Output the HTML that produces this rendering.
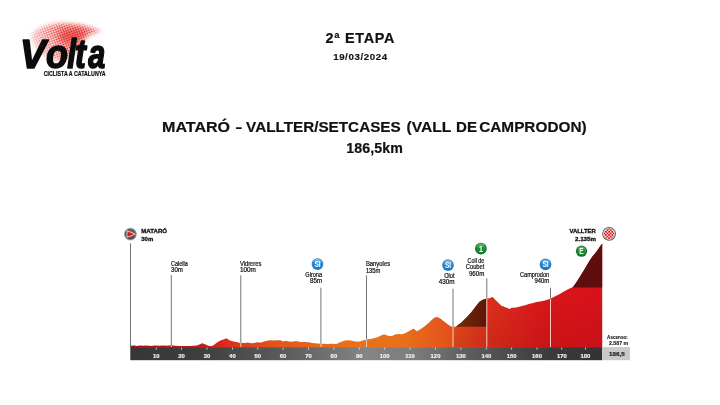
<!DOCTYPE html>
<html lang="ca"><head><meta charset="utf-8"><title>2ª Etapa - Volta Ciclista a Catalunya</title>
<style>
html,body{margin:0;padding:0;background:#fff;}
body{width:720px;height:405px;overflow:hidden;font-family:"Liberation Sans",sans-serif;}
svg{display:block}
svg text{font-family:"Liberation Sans",sans-serif;}
.tk{font-size:5.9px;font-weight:bold;fill:#f4f4f4;stroke:#f4f4f4;stroke-width:0.15px;text-anchor:middle}
.lb{font-size:6.3px;fill:#111;stroke:#111;stroke-width:0.2px}
.lbb{font-size:6.2px;font-weight:bold;fill:#111;stroke:#111;stroke-width:0.32px}
.ln{stroke:#747474;stroke-width:1}
.lw{stroke:#f7cdb9;stroke-width:1}
</style></head><body>
<svg width="720" height="405" viewBox="0 0 720 405">
<defs>
<linearGradient id="gprof" gradientUnits="userSpaceOnUse" x1="130" y1="0" x2="602" y2="0">
<stop offset="0" stop-color="#a31117"/>
<stop offset="0.12" stop-color="#b9151a"/>
<stop offset="0.17" stop-color="#cf1d1b"/>
<stop offset="0.2" stop-color="#de2a1a"/>
<stop offset="0.3" stop-color="#e4521b"/>
<stop offset="0.45" stop-color="#e8701a"/>
<stop offset="0.58" stop-color="#e8701a"/>
<stop offset="0.68" stop-color="#e3501c"/>
<stop offset="0.76" stop-color="#dd2f1d"/>
<stop offset="0.88" stop-color="#d8161b"/>
<stop offset="1" stop-color="#d6121a"/>
</linearGradient>
<linearGradient id="gbar" gradientUnits="userSpaceOnUse" x1="130" y1="0" x2="602" y2="0">
<stop offset="0" stop-color="#363636"/>
<stop offset="0.15" stop-color="#3e3e3e"/>
<stop offset="0.35" stop-color="#606060"/>
<stop offset="0.5" stop-color="#858585"/>
<stop offset="0.6" stop-color="#7c7c7c"/>
<stop offset="0.75" stop-color="#555"/>
<stop offset="0.9" stop-color="#3a3a3a"/>
<stop offset="1" stop-color="#333"/>
</linearGradient>
<linearGradient id="gshade" gradientUnits="userSpaceOnUse" x1="0" y1="296" x2="0" y2="347"><stop offset="0" stop-color="#7a0a00" stop-opacity="0"/><stop offset="1" stop-color="#7a0a00" stop-opacity="0.16"/></linearGradient>
<linearGradient id="gc1" gradientUnits="userSpaceOnUse" x1="456" y1="0" x2="487" y2="0"><stop offset="0" stop-color="#712d07"/><stop offset="1" stop-color="#5c1607"/></linearGradient>
<linearGradient id="gblue" x1="0" y1="0" x2="0" y2="1"><stop offset="0" stop-color="#84c9f2"/><stop offset="0.38" stop-color="#2b8bd3"/><stop offset="1" stop-color="#1a72ba"/></linearGradient>
<linearGradient id="ggreen" x1="0" y1="0" x2="0" y2="1"><stop offset="0" stop-color="#6cc06a"/><stop offset="0.4" stop-color="#1f9038"/><stop offset="1" stop-color="#0f7d2d"/></linearGradient>
<radialGradient id="ggrey" cx="0.5" cy="0.4" r="0.6"><stop offset="0" stop-color="#7a7a7a"/><stop offset="1" stop-color="#444"/></radialGradient>
<pattern id="chk" width="3.2" height="3.2" patternUnits="userSpaceOnUse" x="0.3" y="0.6"><rect width="3.2" height="3.2" fill="#fbd5d2"/><rect width="1.6" height="1.6" fill="#df1219"/><rect x="1.6" y="1.6" width="1.6" height="1.6" fill="#df1219"/></pattern>
<pattern id="dots" width="2.4" height="2.4" patternUnits="userSpaceOnUse" patternTransform="rotate(-20)"><circle cx="1.2" cy="1.2" r="0.95" fill="#e2201c"/></pattern>
<filter id="bl3" x="-50%" y="-50%" width="200%" height="200%"><feGaussianBlur stdDeviation="3"/></filter>
<filter id="bl2" x="-50%" y="-50%" width="200%" height="200%"><feGaussianBlur stdDeviation="2.2"/></filter>
<linearGradient id="swg" gradientUnits="userSpaceOnUse" x1="28" y1="50" x2="80" y2="30"><stop offset="0" stop-color="#fff" stop-opacity="0.22"/><stop offset="0.7" stop-color="#fff" stop-opacity="1"/><stop offset="1" stop-color="#fff" stop-opacity="1"/></linearGradient>
<mask id="swmask" maskUnits="userSpaceOnUse" x="10" y="10" width="110" height="70"><path d="M31,35 C37,27 50,24 62,23.5 C78,23 92,27 102,31.5 C92,32.5 86,36 82,42 C78,49 73,55 65,59.5 C57,62 47,59 41,53 C36,48 31,42 31,35 Z" fill="url(#swg)" filter="url(#bl2)"/></mask>
</defs>

<!-- logo -->
<g id="logo">
<g mask="url(#swmask)"><rect x="18" y="16" width="90" height="52" fill="url(#dots)"/></g>
<ellipse cx="72" cy="35.5" rx="14" ry="7" fill="#e2201c" opacity="0.55" filter="url(#bl3)" transform="rotate(-8 72 35.5)"/>
<text y="67.7" font-size="41" font-weight="bold" font-style="italic" fill="#0b0b0b" stroke="#0b0b0b" stroke-width="1.6" stroke-linejoin="round"><tspan x="20.1" textLength="25.7" lengthAdjust="spacingAndGlyphs">V</tspan><tspan x="46" textLength="22" lengthAdjust="spacingAndGlyphs">o</tspan><tspan x="67.3" textLength="8.8" lengthAdjust="spacingAndGlyphs">l</tspan><tspan x="75.1" textLength="10.8" lengthAdjust="spacingAndGlyphs">t</tspan><tspan x="88.3" textLength="17" lengthAdjust="spacingAndGlyphs">a</tspan></text>
<text x="43.7" y="75.8" font-size="6.6" font-weight="bold" fill="#111" stroke="#111" stroke-width="0.2" textLength="61.9" lengthAdjust="spacingAndGlyphs">CICLISTA A CATALUNYA</text>
</g>

<!-- headings -->
<text x="360.3" y="43.2" text-anchor="middle" font-size="14.4" font-weight="bold" fill="#111" stroke="#111" stroke-width="0.2" letter-spacing="0.7">2ª ETAPA</text>
<text x="360.4" y="60.1" text-anchor="middle" font-size="9.7" font-weight="bold" fill="#111" stroke="#111" stroke-width="0.15" letter-spacing="0.6">19/03/2024</text>
<text y="131.8" font-size="15" font-weight="bold" fill="#111" stroke="#111" stroke-width="0.2"><tspan x="162.0" textLength="68.1" lengthAdjust="spacingAndGlyphs">MATARÓ</tspan> <tspan x="235.2" textLength="7.1" lengthAdjust="spacingAndGlyphs">-</tspan> <tspan x="246.1" textLength="154.6" lengthAdjust="spacingAndGlyphs">VALLTER/SETCASES</tspan> <tspan x="406.5" textLength="44.5" lengthAdjust="spacingAndGlyphs">(VALL</tspan> <tspan x="456.1" textLength="20.9" lengthAdjust="spacingAndGlyphs">DE</tspan> <tspan x="479.2" textLength="107.4" lengthAdjust="spacingAndGlyphs">CAMPRODON)</tspan></text>
<text x="374.7" y="152.8" text-anchor="middle" font-size="14.2" font-weight="bold" fill="#111" stroke="#111" stroke-width="0.2" letter-spacing="0.1">186,5km</text>

<!-- profile -->
<path d="M130.3,345.8 L134.0,345.6 L137.0,345.9 L140.0,345.4 L143.0,345.8 L147.0,345.5 L151.0,345.9 L155.0,345.5 L159.0,345.8 L163.0,345.4 L167.0,345.7 L171.0,345.3 L175.0,345.8 L180.0,345.9 L185.0,346.0 L190.0,346.0 L193.0,345.8 L196.7,345.4 L200.0,344.2 L202.2,343.3 L204.5,344.0 L207.8,345.5 L210.0,345.9 L212.2,346.0 L214.5,344.6 L216.7,342.8 L219.0,341.3 L221.1,340.2 L223.5,339.4 L226.1,338.3 L228.0,339.2 L230.0,340.6 L232.0,341.0 L234.4,341.7 L236.5,342.1 L238.9,342.8 L241.0,342.7 L243.3,343.1 L245.5,342.9 L247.8,342.4 L250.0,342.9 L252.2,343.3 L254.5,342.9 L256.7,342.2 L259.0,342.6 L261.1,342.4 L264.0,341.5 L266.7,340.8 L270.6,340.3 L274.0,340.5 L277.0,340.2 L280.6,340.3 L283.3,341.4 L285.6,340.8 L288.0,341.3 L290.6,341.7 L293.5,341.5 L296.1,341.1 L299.0,341.7 L301.7,342.0 L305.0,341.9 L309.4,342.2 L312.0,342.9 L315.0,343.3 L318.0,343.4 L320.6,343.7 L324.0,343.7 L327.2,343.9 L331.0,343.8 L336.1,343.9 L338.5,343.1 L340.6,342.0 L343.0,341.2 L345.0,340.4 L348.0,340.2 L351.0,340.6 L354.0,341.2 L358.2,341.7 L362.0,340.8 L366.6,339.6 L370.0,338.9 L374.0,338.2 L378.0,337.0 L381.0,335.6 L384.2,334.3 L386.5,335.2 L389.0,335.9 L392.0,336.1 L394.0,334.9 L396.2,334.2 L399.0,333.9 L402.0,334.2 L405.0,333.2 L408.8,331.3 L411.0,329.9 L413.3,328.4 L415.0,329.7 L416.8,331.2 L420.0,329.6 L424.0,326.7 L428.0,323.6 L431.0,320.6 L434.0,317.9 L435.8,317.1 L438.0,317.3 L441.0,319.0 L445.0,322.2 L449.4,325.6 L451.7,326.7 L455.6,326.7 L456.1,326.5 L461.7,322.2 L467.2,316.7 L471.7,311.7 L476.1,306.1 L479.4,301.7 L482.8,299.8 L486.7,298.4 L489.4,298.3 L491.2,297.4 L492.8,296.9 L495.0,299.4 L498.3,302.8 L501.7,306.1 L503.3,306.3 L505.0,307.2 L507.0,307.8 L509.4,309.1 L511.7,307.8 L514.0,307.7 L517.2,307.2 L521.0,306.3 L525.0,305.3 L528.0,304.3 L532.0,303.2 L536.5,302.0 L540.0,301.6 L544.9,300.4 L550.4,298.7 L554.8,296.6 L559.7,293.9 L564.7,291.1 L569.6,288.5 L572.6,287.3 L573.5,286.3 L575.5,283.6 L577.5,280.6 L579.6,277.2 L582.8,272.0 L586.0,266.8 L589.2,261.2 L592.4,256.6 L595.6,252.7 L598.8,248.3 L600.5,245.8 L602.2,243.5 L602.2,347.6 L130.3,347.6 Z" fill="url(#gprof)"/>
<path d="M455.6,326.7 L456.1,326.5 L461.7,322.2 L467.2,316.7 L471.7,311.7 L476.1,306.1 L479.4,301.7 L482.8,299.8 L486.7,298.4 L489.4,298.3 L491.2,297.4 L492.8,296.9 L495.0,299.4 L498.3,302.8 L501.7,306.1 L503.3,306.3 L505.0,307.2 L507.0,307.8 L509.4,309.1 L511.7,307.8 L514.0,307.7 L517.2,307.2 L521.0,306.3 L525.0,305.3 L528.0,304.3 L532.0,303.2 L536.5,302.0 L540.0,301.6 L544.9,300.4 L550.4,298.7 L554.8,296.6 L559.7,293.9 L564.7,291.1 L569.6,288.5 L572.6,287.3 L573.5,286.3 L575.5,283.6 L577.5,280.6 L579.6,277.2 L582.8,272.0 L586.0,266.8 L589.2,261.2 L592.4,256.6 L595.6,252.7 L598.8,248.3 L600.5,245.8 L602.2,243.5 L602.2,347.6 L453,347.6 Z" fill="url(#gshade)"/>
<path d="M456.1,326.5 L461.7,322.2 L467.2,316.7 L471.7,311.7 L476.1,306.1 L479.4,301.7 L482.8,299.8 L486.7,298.4 L486.7,326.7 L456.1,326.7 Z" fill="url(#gc1)"/>
<path d="M572.6,287.3 L573.5,286.3 L575.5,283.6 L577.5,280.6 L579.6,277.2 L582.8,272.0 L586.0,266.8 L589.2,261.2 L592.4,256.6 L595.6,252.7 L598.8,248.3 L600.5,245.8 L602.2,243.5 L602.2,287.4 L572.6,287.4 Z" fill="#5c0f0c"/>
<!-- bar -->
<rect x="130.3" y="347.1" width="471.9" height="13.1" fill="url(#gbar)"/>
<rect x="602.2" y="347.1" width="27.8" height="13.1" fill="#c9c9c9"/>
<rect x="155.8" y="347.6" width="0.8" height="2" fill="#e8e8e8"/><text x="156.2" y="357.6" class="tk">10</text><rect x="181.2" y="347.6" width="0.8" height="2" fill="#e8e8e8"/><text x="181.6" y="357.6" class="tk">20</text><rect x="206.6" y="347.6" width="0.8" height="2" fill="#e8e8e8"/><text x="207.0" y="357.6" class="tk">30</text><rect x="232.0" y="347.6" width="0.8" height="2" fill="#e8e8e8"/><text x="232.4" y="357.6" class="tk">40</text><rect x="257.4" y="347.6" width="0.8" height="2" fill="#e8e8e8"/><text x="257.8" y="357.6" class="tk">50</text><rect x="282.7" y="347.6" width="0.8" height="2" fill="#e8e8e8"/><text x="283.1" y="357.6" class="tk">60</text><rect x="308.1" y="347.6" width="0.8" height="2" fill="#e8e8e8"/><text x="308.5" y="357.6" class="tk">70</text><rect x="333.5" y="347.6" width="0.8" height="2" fill="#e8e8e8"/><text x="333.9" y="357.6" class="tk">80</text><rect x="358.9" y="347.6" width="0.8" height="2" fill="#e8e8e8"/><text x="359.3" y="357.6" class="tk">90</text><rect x="384.3" y="347.6" width="0.8" height="2" fill="#e8e8e8"/><text x="384.7" y="357.6" class="tk">100</text><rect x="409.7" y="347.6" width="0.8" height="2" fill="#e8e8e8"/><text x="410.1" y="357.6" class="tk">110</text><rect x="435.1" y="347.6" width="0.8" height="2" fill="#e8e8e8"/><text x="435.5" y="357.6" class="tk">120</text><rect x="460.5" y="347.6" width="0.8" height="2" fill="#e8e8e8"/><text x="460.9" y="357.6" class="tk">130</text><rect x="485.9" y="347.6" width="0.8" height="2" fill="#e8e8e8"/><text x="486.3" y="357.6" class="tk">140</text><rect x="511.3" y="347.6" width="0.8" height="2" fill="#e8e8e8"/><text x="511.7" y="357.6" class="tk">150</text><rect x="536.6" y="347.6" width="0.8" height="2" fill="#e8e8e8"/><text x="537.0" y="357.6" class="tk">160</text><rect x="561.4" y="347.6" width="0.8" height="2" fill="#e8e8e8"/><text x="561.8" y="357.6" class="tk">170</text><rect x="585.0" y="347.6" width="0.8" height="2" fill="#e8e8e8"/><text x="585.4" y="357.6" class="tk">180</text>
<text x="609" y="355.5" font-size="5.9" font-weight="bold" fill="#222" stroke="#222" stroke-width="0.2" textLength="15.7" lengthAdjust="spacingAndGlyphs">186,5</text>
<text x="607.1" y="338.8" font-size="5" font-weight="bold" fill="#222" stroke="#222" stroke-width="0.15" textLength="20.7" lengthAdjust="spacingAndGlyphs">Ascenso:</text>
<text x="609" y="344.8" font-size="5.4" font-weight="bold" fill="#222" stroke="#222" stroke-width="0.15" textLength="19.2" lengthAdjust="spacingAndGlyphs">2.587 m</text>

<!-- marker lines -->
<line class="ln" x1="130.5" y1="243.3" x2="130.5" y2="347"/>
<line class="ln" x1="171.3" y1="275.1" x2="171.3" y2="345.5"/><line class="lw" x1="171.3" y1="345.5" x2="171.3" y2="347"/>
<line class="ln" x1="240.8" y1="275.3" x2="240.8" y2="342.8"/><line class="lw" x1="240.8" y1="342.8" x2="240.8" y2="347"/>
<line class="ln" x1="320.9" y1="287.7" x2="320.9" y2="343.7"/><line class="lw" x1="320.9" y1="343.7" x2="320.9" y2="347"/>
<line class="ln" x1="366.5" y1="275.4" x2="366.5" y2="339.6"/><line class="lw" x1="366.5" y1="339.6" x2="366.5" y2="347"/>
<line class="ln" x1="453" y1="288.8" x2="453" y2="326.7"/><line class="lw" x1="453" y1="326.7" x2="453" y2="347"/>
<line class="ln" x1="486.8" y1="278.4" x2="486.8" y2="298.4"/><line class="lw" x1="486.8" y1="298.4" x2="486.8" y2="347"/>
<line class="ln" x1="550.5" y1="287.8" x2="550.5" y2="298.9"/><line class="lw" x1="550.5" y1="298.9" x2="550.5" y2="347"/>

<!-- labels -->
<text class="lbb" x="141.3" y="233.4" textLength="25.8" lengthAdjust="spacingAndGlyphs">MATARÓ</text>
<text class="lbb" x="141.3" y="240.8" textLength="11.9" lengthAdjust="spacingAndGlyphs">30m</text>
<text class="lb" x="171.0" y="266.3" textLength="16.9" lengthAdjust="spacingAndGlyphs">Calella</text>
<text class="lb" x="171.0" y="272.2" textLength="11.9" lengthAdjust="spacingAndGlyphs">30m</text>
<text class="lb" x="239.9" y="265.6" textLength="21.5" lengthAdjust="spacingAndGlyphs">Vidreres</text>
<text class="lb" x="239.9" y="271.7" textLength="16.0" lengthAdjust="spacingAndGlyphs">100m</text>
<text class="lb" x="305.3" y="277.1" textLength="16.8" lengthAdjust="spacingAndGlyphs">Girona</text>
<text class="lb" x="309.9" y="283.3" textLength="12.2" lengthAdjust="spacingAndGlyphs">85m</text>
<text class="lb" x="365.9" y="266.0" textLength="24.2" lengthAdjust="spacingAndGlyphs">Banyoles</text>
<text class="lb" x="365.9" y="272.6" textLength="14.5" lengthAdjust="spacingAndGlyphs">135m</text>
<text class="lb" x="444.2" y="278.0" textLength="10.4" lengthAdjust="spacingAndGlyphs">Olot</text>
<text class="lb" x="438.7" y="284.1" textLength="15.9" lengthAdjust="spacingAndGlyphs">430m</text>
<text class="lb" x="467.6" y="262.9" textLength="16.7" lengthAdjust="spacingAndGlyphs">Coll de</text>
<text class="lb" x="465.8" y="268.8" textLength="18.5" lengthAdjust="spacingAndGlyphs">Coubet</text>
<text class="lb" x="468.9" y="275.5" textLength="15.4" lengthAdjust="spacingAndGlyphs">960m</text>
<text class="lb" x="520.0" y="277.0" textLength="29.2" lengthAdjust="spacingAndGlyphs">Camprodon</text>
<text class="lb" x="534.4" y="283.0" textLength="14.8" lengthAdjust="spacingAndGlyphs">940m</text>
<text class="lbb" x="569.4" y="232.9" textLength="26.4" lengthAdjust="spacingAndGlyphs">VALLTER</text>
<text class="lbb" x="575.0" y="240.8" textLength="21.0" lengthAdjust="spacingAndGlyphs">2.135m</text>

<!-- icons -->
<g><circle cx="130.4" cy="234.1" r="5.95" fill="url(#ggrey)" stroke="#a6a6a6" stroke-width="0.9"/><path d="M127,230.8 L135.3,234.1 L127,237.4 Z" fill="#e1141c" stroke="#fff" stroke-width="0.7" stroke-linejoin="round"/></g>
<g><circle cx="317.5" cy="264.1" r="5.85" fill="#2a7ec4"/><circle cx="317.5" cy="264.1" r="5.0" fill="url(#gblue)"/><text x="314.4" y="267.15000000000003" font-size="8.6" font-weight="bold" fill="#fff" textLength="6.3" lengthAdjust="spacingAndGlyphs">SI</text></g>
<g><circle cx="448" cy="265.1" r="5.85" fill="#2a7ec4"/><circle cx="448" cy="265.1" r="5.0" fill="url(#gblue)"/><text x="444.9" y="268.15000000000003" font-size="8.6" font-weight="bold" fill="#fff" textLength="6.3" lengthAdjust="spacingAndGlyphs">SI</text></g>
<g><circle cx="545.5" cy="264.4" r="5.85" fill="#2a7ec4"/><circle cx="545.5" cy="264.4" r="5.0" fill="url(#gblue)"/><text x="542.4" y="267.45" font-size="8.6" font-weight="bold" fill="#fff" textLength="6.3" lengthAdjust="spacingAndGlyphs">SI</text></g>
<g><circle cx="480.9" cy="248.7" r="5.9" fill="#0c7229"/><circle cx="480.9" cy="248.7" r="5.1000000000000005" fill="url(#ggreen)"/><text x="478.95" y="251.79999999999998" font-size="8.8" font-weight="bold" fill="#fff" textLength="3.9" lengthAdjust="spacingAndGlyphs">1</text></g>
<g><circle cx="581.5" cy="251.2" r="5.6" fill="#0c7229"/><circle cx="581.5" cy="251.2" r="4.8" fill="url(#ggreen)"/><text x="579.35" y="254.29999999999998" font-size="8.4" font-weight="bold" fill="#fff" textLength="4.3" lengthAdjust="spacingAndGlyphs">E</text></g>
<g><circle cx="609.1" cy="233.8" r="6.9" fill="#555"/><circle cx="609.1" cy="233.8" r="6.1" fill="#cfcfcf"/><circle cx="609.1" cy="233.8" r="5.2" fill="url(#chk)"/></g>
</svg>
</body></html>
